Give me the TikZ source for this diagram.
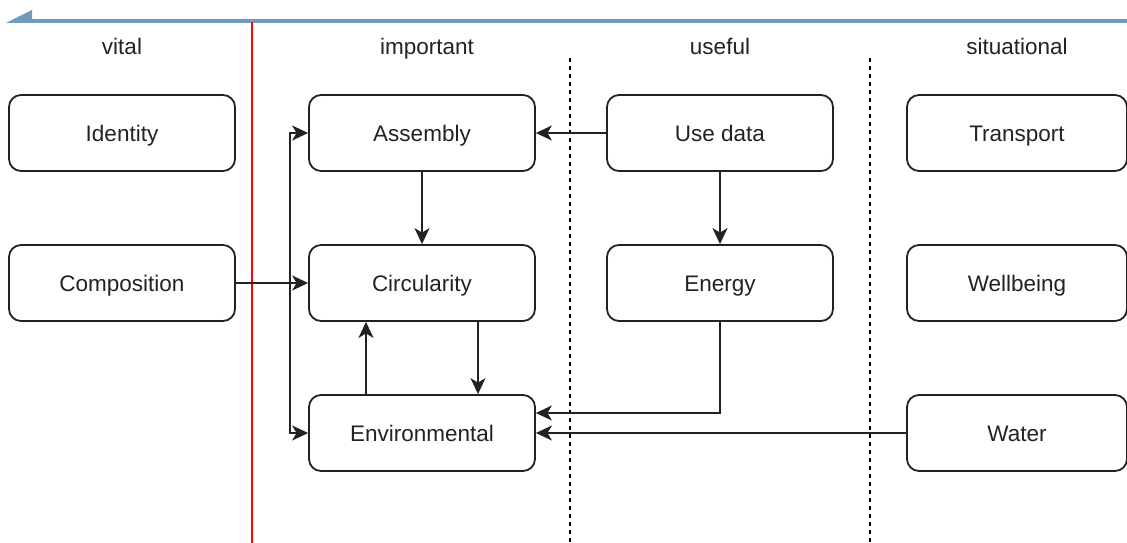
\documentclass[tikz,border=0pt]{standalone}
\usepackage{fontspec}
\setmainfont{Liberation Sans}
\usetikzlibrary{arrows.meta}
\definecolor{scaleblue}{RGB}{112,154,192}
\definecolor{ink}{RGB}{34,34,34}
\begin{document}
\begin{tikzpicture}[x=1pt,y=-1pt,
  labelfont/.style={text=ink, font=\fontsize{22.5}{27}\selectfont,
    text height=16pt, text depth=0pt},
  box/.style={draw=ink, rounded corners=12pt, line width=1.8pt,
    minimum width=226pt, minimum height=76pt, inner sep=0pt, labelfont},
  narrowbox/.style={box, minimum width=220pt},
  colhead/.style={labelfont, inner sep=0pt},
  arr/.style={draw=ink, line width=1.8pt,
    -{Stealth[length=16pt, width=15pt, inset=4.5pt]}},
  divider/.style={line width=1.8pt, dash pattern=on 4pt off 4pt}
]
\useasboundingbox (0,0) rectangle (1127,543);

% priority scale across the top
\draw[scaleblue, line width=3.5pt] (30,21) -- (1127,21);
\fill[scaleblue] (6,23) -- (32,10) -- (32,23) -- cycle;

% column dividers
\draw[red, line width=1.8pt] (252,22) -- (252,543);
\draw[divider] (570,58) -- (570,543);
\draw[divider] (870,58) -- (870,543);

% column headings
\node[colhead] (hvital) at (122,47) {vital};
\node[colhead] (himportant) at (427,47) {important};
\node[colhead] (huseful) at (720,47) {useful};
\node[colhead] (hsituational) at (1017,47) {situational};

% boxes
\node[box] (identity) at (122,133) {Identity};
\node[box] (composition) at (122,283) {Composition};
\node[box] (assembly) at (422,133) {Assembly};
\node[box] (circularity) at (422,283) {Circularity};
\node[box] (environmental) at (422,433) {Environmental};
\node[box] (usedata) at (720,133) {Use data};
\node[box] (energy) at (720,283) {Energy};
\node[narrowbox] (transport) at (1017,133) {Transport};
\node[narrowbox] (wellbeing) at (1017,283) {Wellbeing};
\node[narrowbox] (water) at (1017,433) {Water};

% connectors
\draw[arr] (usedata.west) -- (assembly.east);
\draw[arr] (assembly.south) -- (circularity.north);
\draw[arr] (usedata.south) -- (energy.north);
\draw[arr] (composition.east) -- (circularity.west);
\coordinate (fork) at (290,283);
\draw[arr] (fork) |- (assembly.west);
\draw[arr] (fork) |- (environmental.west);
\draw[arr] ([xshift=56pt]circularity.south) -- ([xshift=56pt]environmental.north);
\draw[arr] ([xshift=-56pt]environmental.north) -- ([xshift=-56pt]circularity.south);
\draw[arr] (energy.south) |- ([yshift=20pt]environmental.east);
\draw[arr] (water.west) -- (environmental.east);
\end{tikzpicture}
\end{document}
